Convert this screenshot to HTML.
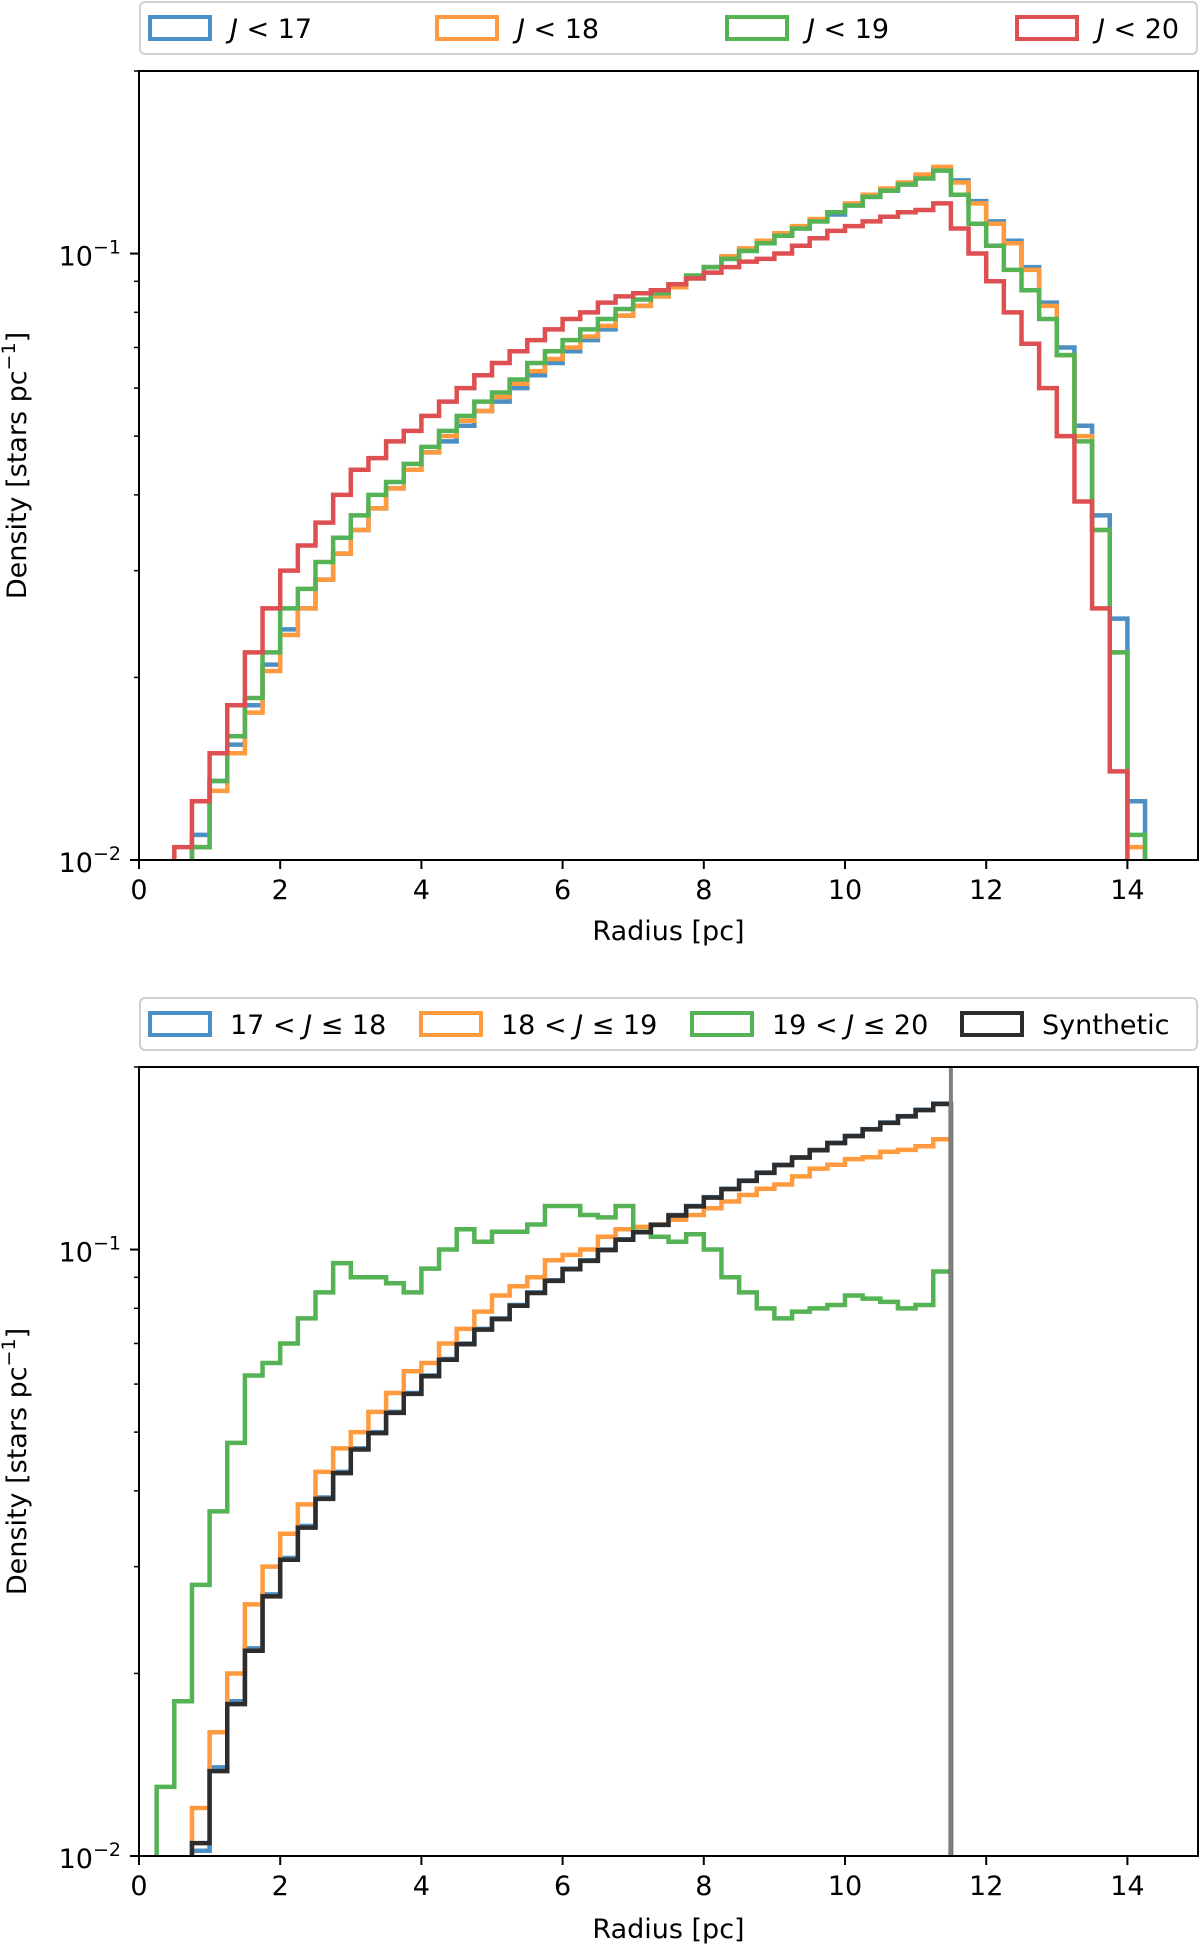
<!DOCTYPE html>
<html><head><meta charset="utf-8"><style>
body{margin:0;background:#fff;}
svg{display:block;font-family:"DejaVu Sans","Liberation Sans",sans-serif;}
</style></head><body>
<svg id="fig" width="1200" height="1947" viewBox="0 0 1200 1947" xmlns="http://www.w3.org/2000/svg"></svg>
<script>
// ---- data (bin width 0.25 pc) ----
const binWidth = 0.25;
const topStart = 0.5;
const topNames = ["J < 17","J < 18","J < 19","J < 20"];
const topJ17 = [0,0.011,0.0135,0.0155,0.018,0.021,0.024,0.026,0.029,0.032,0.035,0.038,0.041,0.044,0.047,0.049,0.052,0.055,0.057,0.06,0.063,0.066,0.069,0.072,0.075,0.079,0.082,0.085,0.088,0.091,0.095,0.098,0.101,0.104,0.107,0.11,0.113,0.116,0.12,0.124,0.127,0.13,0.134,0.138,0.132,0.122,0.113,0.105,0.095,0.083,0.07,0.052,0.037,0.025,0.0125];
const topJ18 = [0,0.0105,0.013,0.015,0.0175,0.0205,0.0235,0.026,0.029,0.032,0.035,0.038,0.041,0.044,0.047,0.05,0.053,0.055,0.058,0.061,0.064,0.067,0.07,0.073,0.076,0.079,0.082,0.085,0.088,0.091,0.095,0.099,0.102,0.105,0.108,0.111,0.114,0.117,0.121,0.125,0.128,0.131,0.135,0.139,0.131,0.121,0.112,0.104,0.094,0.082,0.068,0.05,0.035,0.022,0.0105];
const topJ19 = [0,0.0105,0.0135,0.016,0.0185,0.022,0.026,0.028,0.031,0.034,0.037,0.04,0.042,0.045,0.048,0.051,0.054,0.057,0.059,0.062,0.066,0.069,0.072,0.075,0.078,0.081,0.084,0.086,0.089,0.092,0.095,0.098,0.101,0.104,0.107,0.11,0.113,0.117,0.12,0.124,0.127,0.13,0.133,0.137,0.125,0.112,0.103,0.094,0.087,0.078,0.068,0.049,0.035,0.022,0.011];
const topJ20 = [0.0105,0.0125,0.015,0.018,0.022,0.026,0.03,0.033,0.036,0.04,0.044,0.046,0.049,0.051,0.054,0.057,0.06,0.063,0.066,0.069,0.072,0.075,0.078,0.08,0.083,0.085,0.086,0.087,0.089,0.091,0.093,0.095,0.097,0.098,0.1,0.103,0.106,0.109,0.111,0.113,0.115,0.117,0.118,0.121,0.11,0.1,0.09,0.08,0.071,0.06,0.05,0.039,0.026,0.014,0.0095];

const botStart = 0;
const botNames = ["17 < J ≤ 18","18 < J ≤ 19","19 < J ≤ 20","Synthetic"];
const botJ1718 = [0,0,0.009,0.0102,0.014,0.018,0.022,0.027,0.031,0.035,0.039,0.043,0.047,0.05,0.054,0.058,0.062,0.066,0.07,0.074,0.077,0.081,0.085,0.089,0.093,0.096,0.1,0.104,0.107,0.11,0.114,0.118,0.122,0.126,0.13,0.134,0.138,0.142,0.146,0.15,0.154,0.158,0.162,0.166,0.17,0.174];
const botJ1819 = [0,0,0.0095,0.012,0.016,0.02,0.026,0.03,0.034,0.038,0.043,0.047,0.05,0.054,0.058,0.063,0.065,0.07,0.074,0.079,0.084,0.087,0.09,0.096,0.098,0.1,0.105,0.108,0.109,0.11,0.112,0.114,0.117,0.12,0.123,0.126,0.128,0.132,0.136,0.138,0.141,0.142,0.145,0.146,0.148,0.152];
const botJ1920 = [0.0095,0.013,0.018,0.028,0.037,0.048,0.062,0.065,0.07,0.077,0.085,0.095,0.09,0.09,0.088,0.085,0.093,0.1,0.108,0.103,0.107,0.107,0.11,0.118,0.118,0.114,0.113,0.118,0.107,0.105,0.103,0.106,0.1,0.09,0.085,0.08,0.077,0.079,0.08,0.081,0.084,0.083,0.082,0.08,0.081,0.092];
const botSynth = [0,0,0.0095,0.0105,0.0138,0.0178,0.0218,0.0268,0.0308,0.0348,0.0388,0.0428,0.0468,0.0498,0.0538,0.0578,0.0618,0.0658,0.0698,0.0738,0.0768,0.0808,0.0848,0.0888,0.0928,0.0958,0.0998,0.1038,0.1068,0.1098,0.1138,0.1178,0.1218,0.1258,0.1298,0.1338,0.1378,0.1418,0.1458,0.1498,0.1538,0.1578,0.1618,0.1658,0.1698,0.1738];
const xTicks = [0,2,4,6,8,10,12,14];
const vLineX = 11.5;

const colors = ["#4b8fc4","#ff9a3e","#55b355","#dd4f50"];
const botColors = ["#4b8fc4","#ff9a3e","#55b355","#2d2d2d"];
const NS = "http://www.w3.org/2000/svg";
const svg = document.getElementById('fig');
function mk(tag, attrs, parent){const e=document.createElementNS(NS,tag);for(const k in attrs)e.setAttribute(k,attrs[k]);(parent||svg).appendChild(e);return e;}

function drawPanel(cfg){
  const L=139,R=1198,T=cfg.top,B=cfg.bottom;
  const xmin=0,xmax=15,ymin=0.01,ymax=0.2;
  const xs=v=>L+(v-xmin)/(xmax-xmin)*(R-L);
  const ys=v=>B-(Math.log10(Math.max(v,ymin*0.5))-Math.log10(ymin))/(Math.log10(ymax)-Math.log10(ymin))*(B-T);
  const g=mk('g',{});
  
  
  const cid='clip-'+cfg.name;
  const cp=mk('clipPath',{id:cid},g); mk('rect',{x:L,y:T,width:R-L,height:B-T},cp);
  const plot=mk('g',{'clip-path':'url(#'+cid+')'},g);
  
  
  cfg.series.forEach((vals,si)=>{
    let d='';let on=false;
    for(let i=0;i<vals.length;i++){
      const x0=xs(cfg.start+i*binWidth),x1=xs(cfg.start+(i+1)*binWidth);
      const v=vals[i];
      if(v>0){
        const y=ys(v);
        if(!on){d+='M'+x0+','+(B+10)+'L'+x0+','+y;on=true;}else d+='L'+x0+','+y;
        d+='L'+x1+','+y;
      }else if(on){d+='L'+x0+','+(B+10);on=false;}
    }
    if(on){const xe=xs(cfg.start+vals.length*binWidth);d+='L'+xe+','+(B+10);}
    const p=mk('path',{d:d,fill:'none',stroke:cfg.colors[si],'stroke-width':4.5,'stroke-linejoin':'miter'},plot);
    
    
  });
  if(cfg.vline!==undefined){
    const vl=mk('line',{x1:xs(cfg.vline),x2:xs(cfg.vline),y1:T,y2:B,stroke:'#7f7f7f','stroke-width':4},plot);
    
    
  }
  const fr=mk('rect',{x:L,y:T,width:R-L,height:B-T,fill:'none',stroke:'#000','stroke-width':2},g);
  
  
  xTicks.forEach(t=>{
    mk('line',{x1:xs(t),x2:xs(t),y1:B,y2:B+9,stroke:'#000','stroke-width':2},g);
    const tx=mk('text',{x:xs(t),y:B+39,'font-size':27,'text-anchor':'middle'},g);
    tx.textContent=t;
    
    
  });
  [0.02,0.03,0.04,0.05,0.06,0.07,0.08,0.09,0.2].forEach(v=>{mk('line',{x1:L-5,x2:L,y1:ys(v),y2:ys(v),stroke:'#000','stroke-width':1.5},g);});
  [[0.01,'−2'],[0.1,'−1']].forEach(([v,e])=>{
    mk('line',{x1:L-9,x2:L,y1:ys(v),y2:ys(v),stroke:'#000','stroke-width':2},g);
    const tx=mk('text',{x:L-18,y:ys(v)+12,'font-size':27,'text-anchor':'end'},g);
    
    
    const a=mk('tspan',{},tx);a.textContent='10';
    const b=mk('tspan',{dy:-12,'font-size':19},tx);b.textContent=e;
  });
  const xl=mk('text',{x:(L+R)/2,y:cfg.xlabelY,'font-size':27,'text-anchor':'middle'},g);
  xl.textContent='Radius [pc]';
  
  
  const cy=(T+B)/2;
  const yl=mk('text',{x:0,y:0,'font-size':27,'text-anchor':'middle',transform:'translate(26,'+cy+') rotate(-90)'},g);
  
  
  const s1=mk('tspan',{},yl);s1.textContent='Density [stars pc';
  const s2=mk('tspan',{dy:-11,'font-size':19},yl);s2.textContent='−1';
  const s3=mk('tspan',{dy:11},yl);s3.textContent=']';
  const lg=mk('g',{},g);
  
  
  mk('rect',{x:140,y:cfg.legTop,width:1057,height:52,rx:5,fill:'#fff',stroke:'#d0d0d0','stroke-width':2},lg);
  cfg.labels.forEach((lab,i)=>{
    const x=cfg.legX[i];
    const e=mk('g',{},lg);
    
    
    mk('rect',{x:x,y:cfg.legTop+15,width:60,height:22,fill:'none',stroke:cfg.colors[i],'stroke-width':4},e);
    const t=mk('text',{x:x+80,y:cfg.legTop+36,'font-size':27},e);
    if(lab.indexOf('J')>=0){
      const parts=lab.split('J');
      const a=mk('tspan',{},t);a.textContent=parts[0];
      const b=mk('tspan',{'font-style':'italic'},t);b.textContent='J';
      const c=mk('tspan',{},t);c.textContent=parts[1];
    } else t.textContent=lab;
  });
}
drawPanel({name:'top-panel',top:71,bottom:860,start:topStart,series:[topJ17,topJ18,topJ19,topJ20],keys:['j17','j18','j19','j20'],colors:colors,labels:topNames,legTop:2,legX:[150,437,727,1017],xlabelY:940});
drawPanel({name:'bottom-panel',top:1067,bottom:1856,start:botStart,series:[botJ1718,botJ1819,botJ1920,botSynth],keys:['j17-18','j18-19','j19-20','synthetic'],colors:botColors,labels:botNames,legTop:998,legX:[150,421,692,962],vline:vLineX,xlabelY:1938});
</script>
</body></html>
